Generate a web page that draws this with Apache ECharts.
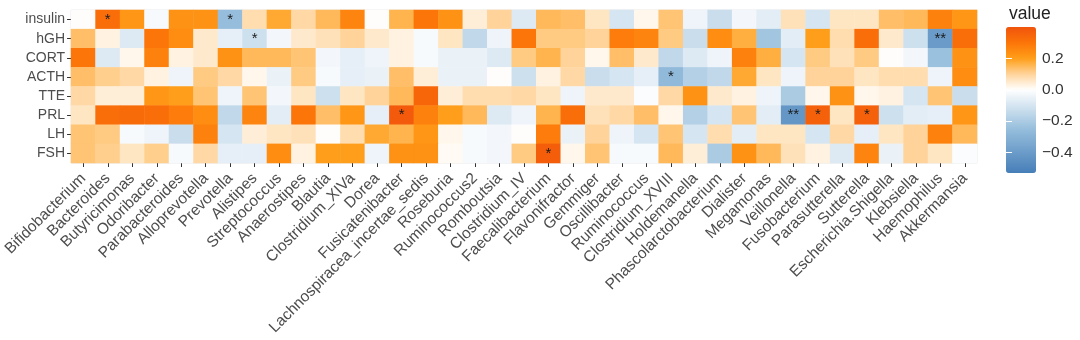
<!DOCTYPE html>
<html>
<head>
<meta charset="utf-8">
<script src="https://cdn.jsdelivr.net/npm/echarts@6/dist/echarts.min.js"></script>
<style>
  html, body { margin: 0; padding: 0; background: #fff; }
  #chart { width: 1080px; height: 340px; }
</style>
</head>
<body>
<div id="chart"></div>
<script>
const genera = ['Bifidobacterium', 'Bacteroides', 'Butyricimonas', 'Odoribacter', 'Parabacteroides',
  'Alloprevotella', 'Prevotella', 'Alistipes', 'Streptococcus', 'Anaerostipes', 'Blautia',
  'Clostridium_XIVa', 'Dorea', 'Fusicatenibacter', 'Lachnospiracea_incertae_sedis', 'Roseburia',
  'Ruminococcus2', 'Romboutsia', 'Clostridium_IV', 'Faecalibacterium', 'Flavonifractor', 'Gemmiger',
  'Oscillibacter', 'Ruminococcus', 'Clostridium_XVIII', 'Holdemanella', 'Phascolarctobacterium',
  'Dialister', 'Megamonas', 'Veillonella', 'Fusobacterium', 'Parasutterella', 'Sutterella',
  'Escherichia.Shigella', 'Klebsiella', 'Haemophilus', 'Akkermansia'];

const hormones = ['insulin', 'hGH', 'CORT', 'ACTH', 'TTE', 'PRL', 'LH', 'FSH'];

// correlation per hormone, one value per genus (same order as genera)
const insulin = [0.0, 0.32, 0.22, -0.02, 0.23, 0.23, -0.25, 0.08, 0.18, 0.09, 0.15, 0.26, 0.0, 0.16, 0.3, 0.23, 0.04, 0.1, -0.08, 0.15, 0.14, 0.06, -0.1, 0.02, 0.13, -0.04, -0.13, -0.03, -0.07, 0.07, -0.1, 0.06, 0.06, 0.14, 0.15, 0.27, 0.22];
const hGH = [0.14, 0.03, -0.08, 0.3, 0.24, 0.05, -0.06, -0.12, -0.03, 0.05, 0.07, 0.1, 0.05, 0.03, -0.02, 0.06, -0.15, -0.04, 0.3, 0.12, 0.12, 0.1, 0.28, 0.26, 0.12, -0.13, 0.24, 0.17, -0.22, -0.07, 0.2, 0.08, 0.32, 0.05, -0.12, -0.4, 0.32];
const CORT = [0.3, -0.08, 0.02, 0.27, 0.03, 0.05, 0.23, 0.15, 0.15, 0.13, -0.03, -0.06, -0.04, 0.03, -0.02, -0.05, -0.05, -0.08, 0.12, 0.16, 0.1, 0.02, 0.14, 0.05, -0.15, -0.08, -0.04, 0.27, 0.17, -0.1, 0.12, 0.07, 0.12, 0.0, -0.03, -0.24, 0.23];
const ACTH = [0.14, 0.11, 0.09, 0.03, -0.04, 0.12, 0.09, 0.02, -0.05, 0.12, -0.02, -0.06, -0.05, 0.14, 0.04, -0.05, -0.05, 0.0, -0.12, 0.03, 0.09, -0.13, -0.1, -0.06, -0.27, -0.18, -0.15, 0.18, 0.06, -0.04, 0.1, 0.1, 0.06, 0.08, 0.08, -0.04, 0.24];
const TTE = [0.09, 0.04, 0.04, 0.22, 0.2, 0.13, -0.04, 0.13, -0.03, 0.06, -0.12, 0.06, 0.1, 0.15, 0.34, 0.04, 0.08, 0.08, 0.09, 0.06, -0.04, 0.05, 0.05, -0.01, 0.09, 0.23, 0.05, 0.03, -0.04, -0.2, 0.02, 0.23, 0.02, 0.03, -0.1, 0.13, -0.13];
const PRL = [0.06, 0.32, 0.33, 0.32, 0.28, 0.24, -0.15, 0.26, -0.07, 0.3, 0.14, 0.22, -0.06, 0.38, 0.27, 0.2, 0.15, -0.08, -0.04, 0.16, 0.32, 0.07, 0.09, 0.14, 0.02, -0.18, -0.1, 0.13, -0.07, -0.42, 0.36, 0.06, 0.36, -0.12, -0.07, -0.06, 0.22];
const LH = [0.13, 0.12, -0.02, -0.04, -0.13, 0.27, -0.1, 0.04, 0.06, 0.07, 0.0, 0.08, 0.18, 0.16, 0.22, 0.02, -0.02, -0.03, 0.0, 0.28, -0.05, 0.1, -0.04, -0.1, 0.13, -0.1, 0.08, -0.07, 0.06, 0.06, -0.1, 0.09, -0.06, 0.06, 0.1, 0.27, 0.15];
const FSH = [0.13, 0.11, 0.06, 0.11, -0.02, 0.09, -0.06, -0.06, 0.24, 0.03, 0.2, 0.2, -0.04, 0.23, 0.23, 0.01, -0.02, -0.03, 0.12, 0.37, 0.02, 0.13, -0.02, -0.02, 0.15, 0.04, -0.2, 0.23, 0.15, 0.07, 0.03, -0.08, 0.26, -0.05, 0.1, 0.06, -0.01];

// significance marks: [genus, hormone, mark]
const stars = [
  ['Bacteroides', 'insulin', '*'], ['Prevotella', 'insulin', '*'], ['Alistipes', 'hGH', '*'],
  ['Fusicatenibacter', 'PRL', '*'], ['Faecalibacterium', 'FSH', '*'], ['Clostridium_XVIII', 'ACTH', '*'],
  ['Veillonella', 'PRL', '**'], ['Fusobacterium', 'PRL', '*'], ['Sutterella', 'PRL', '*'],
  ['Haemophilus', 'hGH', '**']
];

const legendTicks = [0.2, 0.0, -0.2, -0.4];
const vMin = -0.53, vMax = 0.4;

const rows = { insulin, hGH, CORT, ACTH, TTE, PRL, LH, FSH };
const starMap = {};
stars.forEach(s => { starMap[s[0] + '|' + s[1]] = s[2]; });

const data = [];
hormones.forEach((h, j) => {
  rows[h].forEach((v, i) => data.push([i, j, v]));
});

// gradient: steelblue - white - orange - orangered
const stops = [
  [-0.53, [70, 126, 184]],
  [-0.25, [150, 190, 220]],
  [0, [255, 255, 255]],
  [0.1, [255, 212, 155]],
  [0.2, [255, 158, 25]],
  [0.3, [252, 116, 8]],
  [0.4, [240, 84, 12]]
];
function colorAt(v) {
  for (let k = 1; k < stops.length; k++) {
    if (v <= stops[k][0]) {
      const a = stops[k - 1], b = stops[k];
      const t = (v - a[0]) / (b[0] - a[0]);
      const c = a[1].map((x, n) => Math.round(x + (b[1][n] - x) * t));
      return 'rgb(' + c.join(',') + ')';
    }
  }
  return 'rgb(' + stops[stops.length - 1][1].join(',') + ')';
}
const nStops = 60;
const palette = [];
for (let k = 0; k <= nStops; k++) palette.push(colorAt(vMin + (vMax - vMin) * k / nStops));

const textColor = '#4d4d4d';
const font = 'Liberation Sans, Arial, sans-serif';

const myChart = echarts.init(document.getElementById('chart'), null, { renderer: 'canvas' });

const option = {
  backgroundColor: '#fff',
  animation: false,
  title: {
    text: 'value',
    left: 1004,
    top: 0,
    textStyle: { color: '#222', fontSize: 17.5, fontWeight: 'normal', fontFamily: font }
  },
  grid: [
    { left: 70, right: 103, top: 10, bottom: 177, show: true, borderColor: '#e6e6e6', borderWidth: 1, backgroundColor: 'transparent' },
    { left: 1006, top: 27, width: 30, height: 146, show: false }
  ],
  xAxis: [
    {
      type: 'category',
      data: genera,
      gridIndex: 0,
      axisLine: { show: false },
      axisTick: { show: true, alignWithLabel: true, length: 4, lineStyle: { color: '#333' } },
      axisLabel: { rotate: 45, color: textColor, fontSize: 15.5, fontFamily: font, margin: 13, interval: 0 },
      splitLine: { show: false }
    },
    { type: 'value', gridIndex: 1, show: false, min: 0, max: 1 }
  ],
  yAxis: [
    {
      type: 'category',
      data: hormones,
      inverse: true,
      gridIndex: 0,
      axisLine: { show: false },
      axisTick: { show: true, alignWithLabel: true, length: 4, lineStyle: { color: '#333' } },
      axisLabel: { color: textColor, fontSize: 14, fontFamily: font, margin: 6, interval: 0 },
      splitLine: { show: false }
    },
    {
      type: 'value',
      gridIndex: 1,
      position: 'right',
      min: vMin,
      max: vMax,
      z: 10,
      axisLine: { show: false },
      splitLine: { show: false },
      axisTick: { show: true, inside: true, length: 6, customValues: legendTicks, lineStyle: { color: '#fff', width: 1 } },
      axisLabel: {
        show: true,
        customValues: legendTicks,
        color: '#333',
        fontSize: 15.5,
        fontFamily: font,
        margin: 6,
        formatter: v => (v < 0 ? '\u2212' : '') + Math.abs(v).toFixed(1)
      }
    },
    {
      type: 'value',
      gridIndex: 1,
      position: 'left',
      min: vMin,
      max: vMax,
      z: 10,
      axisLine: { show: false },
      splitLine: { show: false },
      axisLabel: { show: false },
      axisTick: { show: true, inside: true, length: 6, customValues: legendTicks, lineStyle: { color: '#fff', width: 1 } }
    }
  ],
  visualMap: {
    type: 'continuous',
    seriesIndex: 0,
    min: vMin,
    max: vMax,
    orient: 'vertical',
    left: 1006,
    top: 27,
    padding: 0,
    itemWidth: 30,
    itemHeight: 146,
    calculable: false,
    hoverLink: false,
    showLabel: false,
    text: null,
    inRange: { color: palette }
  },
  series: [
    {
      type: 'heatmap',
      xAxisIndex: 0,
      yAxisIndex: 0,
      data: data,
      itemStyle: { borderWidth: 0 },
      label: {
        show: true,
        color: '#1a1a1a',
        fontSize: 15,
        fontFamily: font,
        formatter: p => starMap[genera[p.value[0]] + '|' + hormones[p.value[1]]] || ''
      },
      emphasis: { disabled: true }
    },
    {
      type: 'line',
      xAxisIndex: 1,
      yAxisIndex: 1,
      data: [],
      silent: true
    }
  ]
};

myChart.setOption(option);
window.addEventListener('resize', () => myChart.resize());
</script>
</body>
</html>
